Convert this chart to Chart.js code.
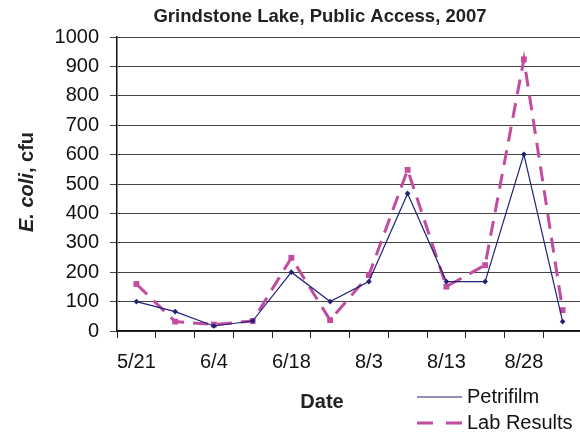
<!DOCTYPE html>
<html>
<head>
<meta charset="utf-8">
<script src="https://cdn.jsdelivr.net/npm/chart.js@4"></script>
<style>
  html, body { margin: 0; padding: 0; background: #fff; overflow: hidden; }
  #wrap { width: 580px; height: 434px; overflow: hidden; }
</style>
</head>
<body>
<div id="wrap"><canvas id="chart" width="590" height="434"></canvas></div>
<script>
// Sampling dates (only every other one is labelled on the axis)
const dates = ["5/21", "", "6/4", "", "6/18", "", "8/3", "", "8/13", "", "8/28", ""];
const petrifilm = [100, 66, 17, 34, 200, 100, 168, 468, 168, 168, 601, 32];
const labResults = [160, 32, 22, 34, 249, 37, 190, 548, 151, 224, 924, 71];

const FONT = "'Liberation Sans', Arial, sans-serif";
const BLUE = "#1f2277";
const PINK = "#c24c9f";

// titles and legend are placed by hand to match the original layout
const textPlugin = {
  id: "texts",
  afterDraw(chart) {
    const ctx = chart.ctx;
    const area = chart.chartArea;
    ctx.save();
    ctx.fillStyle = "#222";
    ctx.textBaseline = "middle";

    ctx.font = "bold 18.5px " + FONT;
    ctx.textAlign = "center";
    ctx.fillText("Grindstone Lake, Public Access, 2007", 320, 17);

    ctx.font = "bold 20px " + FONT;
    ctx.fillText("Date", 322, 402);

    // y title: "E. coli" in italics, ", cfu" upright
    ctx.save();
    ctx.translate(27, (area.top + area.bottom) / 2 - 2);
    ctx.rotate(-Math.PI / 2);
    ctx.textAlign = "left";
    ctx.font = "italic bold 20px " + FONT;
    const a = ctx.measureText("E. coli").width;
    ctx.font = "bold 20px " + FONT;
    const b = ctx.measureText(", cfu").width;
    const x0 = -(a + b) / 2;
    ctx.font = "italic bold 20px " + FONT;
    ctx.fillText("E. coli", x0, 0);
    ctx.font = "bold 20px " + FONT;
    ctx.fillText(", cfu", x0 + a, 0);
    ctx.restore();

    // legend
    ctx.textAlign = "left";
    ctx.font = "20px " + FONT;
    ctx.fillStyle = "#111";
    ctx.strokeStyle = BLUE;
    ctx.lineWidth = 1.2;
    ctx.beginPath();
    ctx.moveTo(417, 397);
    ctx.lineTo(462, 397);
    ctx.stroke();
    ctx.fillText("Petrifilm", 467, 397);

    ctx.strokeStyle = PINK;
    ctx.lineWidth = 3;
    ctx.setLineDash([16, 13]);
    ctx.beginPath();
    ctx.moveTo(417, 423);
    ctx.lineTo(462, 423);
    ctx.stroke();
    ctx.setLineDash([]);
    ctx.fillText("Lab Results", 467, 423);
    ctx.restore();
  }
};

new Chart(document.getElementById("chart").getContext("2d"), {
  type: "line",
  data: {
    labels: dates,
    datasets: [
      {
        label: "Petrifilm",
        data: petrifilm,
        borderColor: BLUE,
        backgroundColor: BLUE,
        borderWidth: 1.2,
        pointStyle: "rectRot",
        pointRadius: 2,
        tension: 0,
        fill: false
      },
      {
        label: "Lab Results",
        data: labResults,
        borderColor: PINK,
        backgroundColor: PINK,
        borderWidth: 3,
        borderDash: [15, 9],
        pointStyle: "rect",
        pointRadius: 2,
        tension: 0,
        fill: false
      }
    ]
  },
  options: {
    responsive: false,
    animation: false,
    layout: { padding: { top: 37, right: 8, left: 0, bottom: 0 } },
    plugins: {
      legend: { display: false },
      title: { display: false },
      tooltip: { enabled: false }
    },
    scales: {
      x: {
        type: "category",
        offset: true,
        afterFit(scale) { scale.height = 103; },
        grid: {
          offset: true,
          drawOnChartArea: false,
          tickLength: 7,
          color: "#222"
        },
        border: { color: "#111", width: 1.5 },
        ticks: {
          autoSkip: false,
          maxRotation: 0,
          padding: 12,
          color: "#111",
          font: { family: FONT, size: 20 }
        }
      },
      y: {
        min: 0,
        max: 1000,
        afterFit(scale) { scale.width = 117; },
        grid: { color: "#444", lineWidth: 1, tickLength: 7 },
        border: { color: "#111", width: 1.5 },
        ticks: {
          stepSize: 100,
          padding: 11,
          color: "#111",
          font: { family: FONT, size: 20 },
          callback: (v) => String(v)
        }
      }
    }
  },
  plugins: [textPlugin]
});
</script>
</body>
</html>
